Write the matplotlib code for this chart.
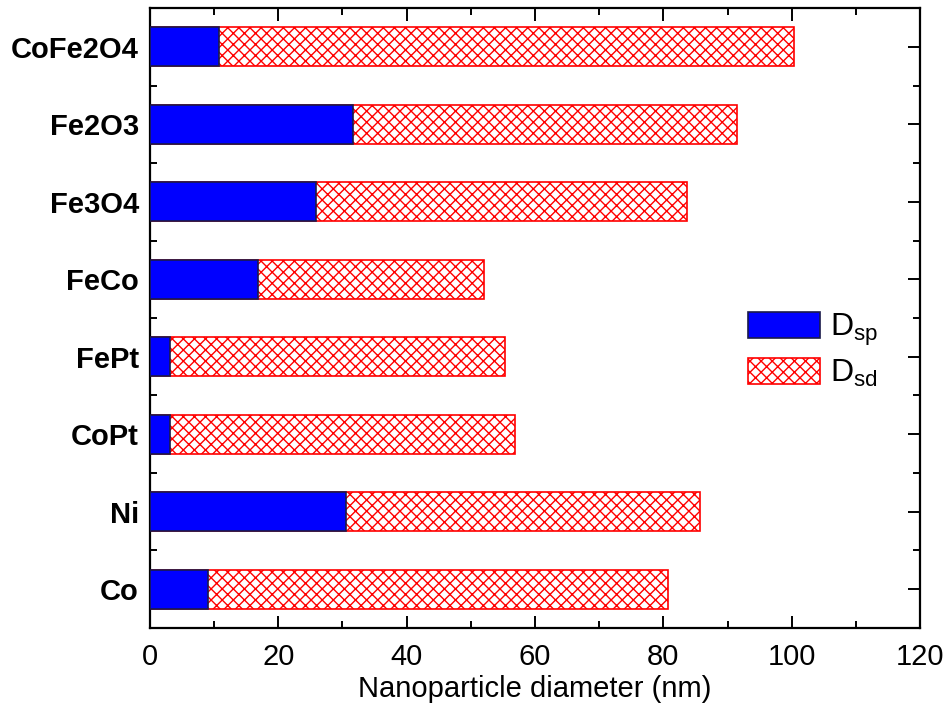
import numpy as np
import matplotlib.pyplot as plt
from matplotlib.ticker import MultipleLocator, FixedLocator

plt.rcParams['font.family'] = 'Liberation Sans'
plt.rcParams['mathtext.fontset'] = 'custom'
plt.rcParams['mathtext.rm'] = 'Liberation Sans'
plt.rcParams['mathtext.default'] = 'regular'
plt.rcParams['hatch.linewidth'] = 1.0

# particle types, bottom to top
materials = ['Co', 'Ni', 'CoPt', 'FePt', 'FeCo', 'Fe3O4', 'Fe2O3', 'CoFe2O4']
# superparamagnetic and single-domain critical diameters (nm)
d_sp = [9.1, 30.5, 3.1, 3.1, 16.8, 25.8, 31.7, 10.8]
d_sd = [80.7, 85.7, 56.9, 55.3, 52.0, 83.7, 91.5, 100.4]

fig = plt.figure(figsize=(9.48, 7.04), dpi=100)
ax = fig.add_axes([0.1582, 0.108, 0.8123, 0.8806])

y = np.arange(len(materials))
ax.barh(y, d_sd, height=0.5, color='white', edgecolor='red', hatch='xxx',
        linewidth=1.2, label=r'D$_{sd}$', zorder=2)
ax.barh(y, d_sp, height=0.5, color='#0000ff', edgecolor='#1a1a4a',
        linewidth=1.2, label=r'D$_{sp}$', zorder=3)

ax.set_xlim(0, 120)
ax.set_ylim(-0.5, len(materials) - 0.5)
ax.xaxis.set_major_locator(MultipleLocator(20))
ax.xaxis.set_minor_locator(MultipleLocator(10))
ax.yaxis.set_major_locator(FixedLocator(y))
ax.yaxis.set_minor_locator(FixedLocator(y[:-1] + 0.5))
ax.set_yticklabels(materials, fontsize=21, fontweight='bold')

ax.tick_params(which='both', direction='in', top=True, right=True, width=1.4, color='black')
ax.tick_params(which='major', length=9)
ax.tick_params(which='minor', length=5)
ax.tick_params(axis='x', labelsize=21, pad=11)
ax.tick_params(axis='y', pad=8)
for s in ax.spines.values():
    s.set_linewidth(1.6)

ax.set_xlabel('Nanoparticle diameter (nm)', fontsize=21, labelpad=3)

handles, labels = ax.get_legend_handles_labels()
ax.legend(handles[::-1], labels[::-1], loc='center left', bbox_to_anchor=(0.756, 0.448),
          frameon=False, fontsize=23, handlelength=2.25, handleheight=0.9,
          handletextpad=0.3, labelspacing=0.3, borderpad=0)

fig.savefig('out.png', dpi=100)
